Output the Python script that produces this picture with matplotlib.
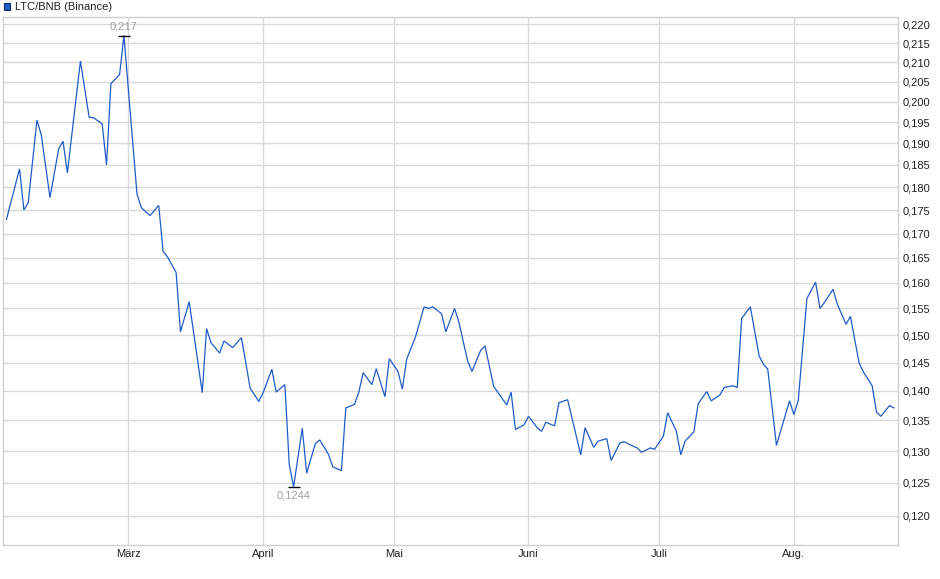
import matplotlib
matplotlib.use("Agg")
import matplotlib.pyplot as plt
import matplotlib.dates as mdates
import matplotlib.ticker as mticker
from matplotlib.patches import Rectangle
import pandas as pd
import numpy as np

plt.rcParams['font.family'] = ['Liberation Sans', 'DejaVu Sans']

# ---------------- data ----------------
dates = [
    "2024-02-02", "2024-02-05", "2024-02-06", "2024-02-07", "2024-02-09", "2024-02-10",
    "2024-02-12", "2024-02-14", "2024-02-15", "2024-02-16", "2024-02-19", "2024-02-21",
    "2024-02-22", "2024-02-24", "2024-02-25", "2024-02-26", "2024-02-28", "2024-02-29",
    "2024-03-02", "2024-03-03", "2024-03-04", "2024-03-06", "2024-03-08", "2024-03-09",
    "2024-03-10", "2024-03-12", "2024-03-13", "2024-03-15", "2024-03-18", "2024-03-19",
    "2024-03-20", "2024-03-22", "2024-03-23", "2024-03-25", "2024-03-27", "2024-03-28",
    "2024-03-29", "2024-03-31", "2024-04-01", "2024-04-03", "2024-04-04", "2024-04-06",
    "2024-04-07", "2024-04-08", "2024-04-10", "2024-04-11", "2024-04-13", "2024-04-14",
    "2024-04-16", "2024-04-17", "2024-04-19", "2024-04-20", "2024-04-22", "2024-04-23",
    "2024-04-24", "2024-04-26", "2024-04-27", "2024-04-29", "2024-04-30", "2024-05-02",
    "2024-05-03", "2024-05-04", "2024-05-06", "2024-05-08", "2024-05-09", "2024-05-10",
    "2024-05-12", "2024-05-13", "2024-05-15", "2024-05-16", "2024-05-18", "2024-05-19",
    "2024-05-21", "2024-05-22", "2024-05-24", "2024-05-25", "2024-05-27", "2024-05-28",
    "2024-05-29", "2024-05-31", "2024-06-01", "2024-06-03", "2024-06-04", "2024-06-05",
    "2024-06-07", "2024-06-08", "2024-06-10", "2024-06-13", "2024-06-14", "2024-06-16",
    "2024-06-17", "2024-06-19", "2024-06-20", "2024-06-22", "2024-06-23", "2024-06-25",
    "2024-06-26", "2024-06-27", "2024-06-29", "2024-06-30", "2024-07-02", "2024-07-03",
    "2024-07-05", "2024-07-06", "2024-07-07", "2024-07-09", "2024-07-10", "2024-07-12",
    "2024-07-13", "2024-07-15", "2024-07-16", "2024-07-18", "2024-07-19", "2024-07-20",
    "2024-07-22", "2024-07-24", "2024-07-25", "2024-07-26", "2024-07-28", "2024-07-31",
    "2024-08-01", "2024-08-02", "2024-08-04", "2024-08-06", "2024-08-07", "2024-08-08",
    "2024-08-10", "2024-08-11", "2024-08-13", "2024-08-14", "2024-08-16", "2024-08-17",
    "2024-08-19", "2024-08-20", "2024-08-21", "2024-08-23", "2024-08-24",
]
values = [
    0.1730, 0.1841, 0.1750, 0.1766, 0.1955, 0.1920,
    0.1777, 0.1887, 0.1905, 0.1832, 0.2103, 0.1962,
    0.1961, 0.1946, 0.1850, 0.2045, 0.2068, 0.2170,
    0.1905, 0.1785, 0.1755, 0.1738, 0.1760, 0.1663,
    0.1652, 0.1620, 0.1506, 0.1563, 0.1397, 0.1512,
    0.1486, 0.1467, 0.1489, 0.1477, 0.1495, 0.1450,
    0.1405, 0.1382, 0.1397, 0.1438, 0.1398, 0.1411,
    0.1279, 0.1244, 0.1337, 0.1265, 0.1312, 0.1318,
    0.1295, 0.1275, 0.1269, 0.1371, 0.1377, 0.1398,
    0.1432, 0.1411, 0.1439, 0.1390, 0.1457, 0.1434,
    0.1403, 0.1456, 0.1496, 0.1553, 0.1550, 0.1553,
    0.1540, 0.1506, 0.1550, 0.1524, 0.1453, 0.1434,
    0.1472, 0.1480, 0.1408, 0.1397, 0.1376, 0.1398,
    0.1335, 0.1343, 0.1357, 0.1338, 0.1332, 0.1347,
    0.1341, 0.1380, 0.1385, 0.1294, 0.1338, 0.1306,
    0.1316, 0.1320, 0.1285, 0.1313, 0.1315, 0.1308,
    0.1305, 0.1298, 0.1305, 0.1303, 0.1324, 0.1363,
    0.1332, 0.1294, 0.1316, 0.1331, 0.1378, 0.1399,
    0.1383, 0.1393, 0.1406, 0.1409, 0.1406, 0.1531,
    0.1553, 0.1462, 0.1447, 0.1438, 0.1309, 0.1383,
    0.1360, 0.1383, 0.1569, 0.1601, 0.1550, 0.1561,
    0.1587, 0.1558, 0.1520, 0.1535, 0.1449, 0.1433,
    0.1409, 0.1364, 0.1357, 0.1375, 0.1371,
]
series_name = "LTC/BNB (Binance)"
month_ticks = ["2024-03-01", "2024-04-01", "2024-05-01", "2024-06-01", "2024-07-01", "2024-08-01"]
month_labels = ["März", "April", "Mai", "Juni", "Juli", "Aug."]
y_ticks = [0.120, 0.125, 0.130, 0.135, 0.140, 0.145, 0.150, 0.155, 0.160, 0.165,
           0.170, 0.175, 0.180, 0.185, 0.190, 0.195, 0.200, 0.205, 0.210, 0.215, 0.220]

# ---------------- figure ----------------
W, H = 940, 579
fig = plt.figure(figsize=(W / 100, H / 100), dpi=100)
left_px, right_px, top_px, bottom_px = 3, 898, 16.5, 545
ax = fig.add_axes([left_px / W, 1 - bottom_px / H, (right_px - left_px) / W, (bottom_px - top_px) / H])

x = pd.to_datetime(dates)
line_color = "#1f5bc6"
ax.plot(x, values, color=line_color, lw=0.9, solid_joinstyle="miter", zorder=3)

ax.set_yscale("log")
ax.set_ylim(0.11578, 0.22216)
ref = mdates.date2num(pd.Timestamp("2024-03-01"))
ax.set_xlim(ref - 28.8, ref + 176.94)

ax.yaxis.set_major_locator(mticker.FixedLocator(y_ticks))
ax.yaxis.set_minor_locator(mticker.NullLocator())
ax.yaxis.set_major_formatter(mticker.FuncFormatter(lambda v, p: f"{v:.3f}".replace(".", ",")))
ax.yaxis.tick_right()

ax.set_xticks(pd.to_datetime(month_ticks))
ax.set_xticklabels(month_labels)
ax.xaxis.set_minor_locator(mticker.NullLocator())

ax.tick_params(axis="both", length=0, labelsize=8, colors="#222222")
ax.tick_params(axis="y", pad=3)
ax.tick_params(axis="x", pad=3)

ax.grid(True, which="major", color="#d9d9d9", lw=1.0)
ax.set_axisbelow(True)
for s in ax.spines.values():
    s.set_color("#d0d0d0")
    s.set_linewidth(1.0)

# extreme annotations
vals = np.array(values)
imax, imin = int(vals.argmax()), int(vals.argmin())
for i, off, va in [(imax, 3, "bottom"), (imin, -3, "top")]:
    ax.plot([x[i]], [vals[i]], marker="_", markersize=8, mew=1.0, color="black", zorder=4)
    txt = f"{vals[i]:.4f}".rstrip("0").replace(".", ",")
    ax.annotate(txt, (x[i], vals[i]), xytext=(0, off), textcoords="offset points",
                ha="center", va=va, fontsize=8, color="#a0a0a0")

# legend
fig.patches.append(Rectangle((3.5 / W, 1 - 9.5 / H), 6 / W, 6.5 / H, transform=fig.transFigure,
                             facecolor=line_color, edgecolor="#0b2a6a", lw=0.8))
fig.text(15 / W, 1 - 6.5 / H, series_name, fontsize=8, va="center", ha="left", color="#222222")

fig.savefig("out.png", dpi=100)
